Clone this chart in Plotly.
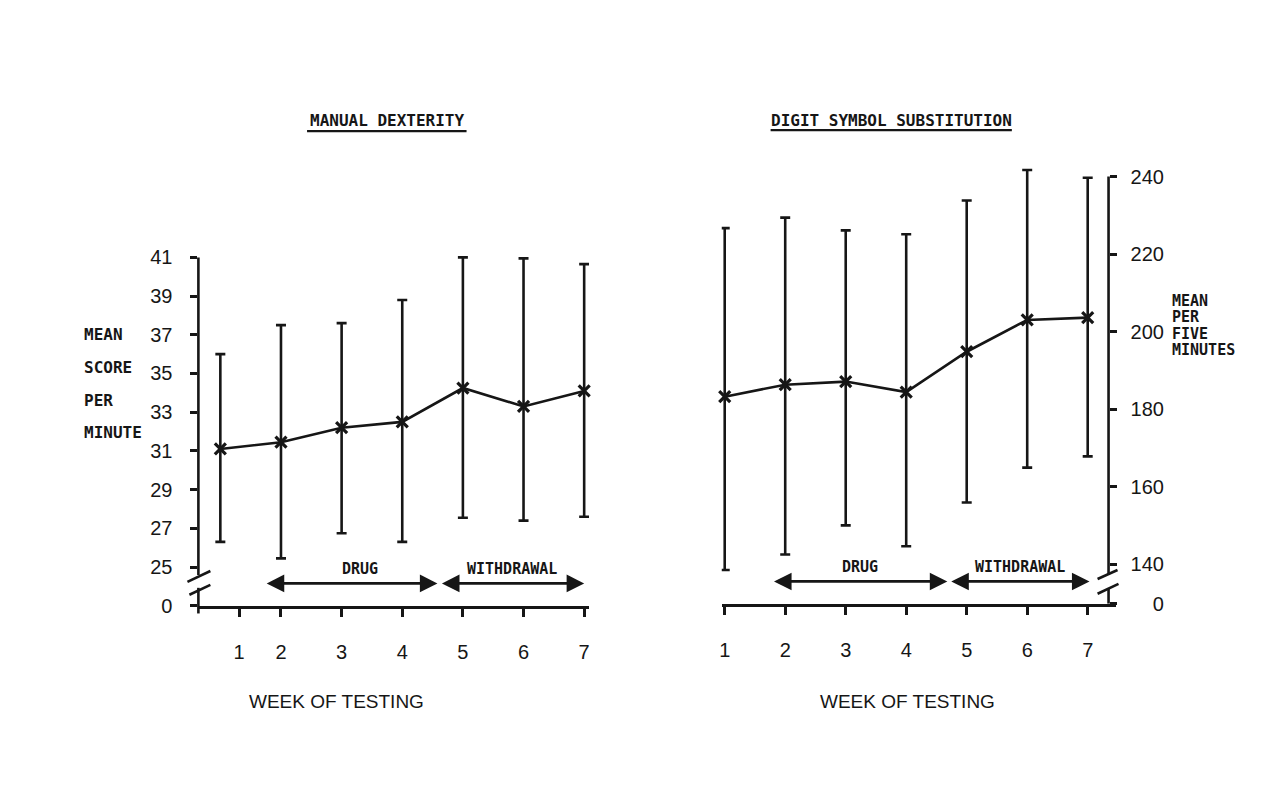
import plotly.graph_objects as go

# ---------------- data ----------------
weeks = [1, 2, 3, 4, 5, 6, 7]
week_labels = ["1", "2", "3", "4", "5", "6", "7"]

md_mean = [31.1, 31.45, 32.2, 32.5, 34.25, 33.3, 34.1]
md_upper = [36.0, 37.5, 37.6, 38.8, 41.0, 40.95, 40.65]
md_lower = [26.3, 25.45, 26.75, 26.3, 27.55, 27.4, 27.6]

dss_mean = [183.2, 186.3, 187.1, 184.4, 194.8, 203.0, 203.6]
dss_upper = [226.7, 229.4, 226.1, 225.1, 233.8, 241.7, 239.7]
dss_lower = [138.5, 142.5, 150.0, 144.6, 155.9, 164.9, 167.8]

md_ticks = [25, 27, 29, 31, 33, 35, 37, 39, 41]
dss_ticks = [140, 160, 180, 200, 220, 240]

drug_md = [1.74, 4.58]
withdrawal_md = [4.63, 7.0]
drug_dss = [1.79, 4.68]
withdrawal_dss = [4.72, 7.03]

# ---------------- helpers ----------------
W, H = 1285, 801
INK = "#161616"
NUM_FONT = dict(family="Liberation Sans Narrow, Liberation Sans, Arial, sans-serif", size=20, color=INK)
TYPE_FONT = dict(family="DejaVu Sans Mono, Liberation Mono, monospace", size=15, color=INK, weight="bold")


def px(x):
    return x / W


def py(y):
    return 1 - y / H


# axis geometry (pixels); y-ranges are extended slightly past the top tick so caps are not clipped
L_X0 = 196
L_Y0 = 614
L_PPU = 19.625            # px per unit (left)
md_range = [23.01, 41.6]
L_Y1 = L_Y0 - (md_range[1] - md_range[0]) * L_PPU
L_TOP = 261               # pixel of 41 tick
x_md_range = [0.638, 7.08]
L_X1 = 218 + (x_md_range[1] - 1) * 60.83

R_X0, R_X1 = 721, 1116
R_Y0 = 612
R_PPU = 3.93
dss_range = [129.82, 243.5]
R_Y1 = R_Y0 - (dss_range[1] - dss_range[0]) * R_PPU
R_TOP = 179
R_AX = 1109


def trace(x, mean, up, lo, xa, ya):
    return go.Scatter(
        x=x, y=mean, xaxis=xa, yaxis=ya, mode="lines+markers",
        line=dict(color=INK, width=2.6),
        marker=dict(symbol="x-thin", size=11, color=INK, line=dict(width=3.2, color=INK)),
        error_y=dict(type="data", symmetric=False,
                     array=[u - m for u, m in zip(up, mean)],
                     arrayminus=[m - l for m, l in zip(mean, lo)],
                     thickness=2.6, width=5, color=INK),
        cliponaxis=False, showlegend=False, hoverinfo="skip",
    )


fig = go.Figure()
fig.add_trace(trace(weeks, md_mean, md_upper, md_lower, "x", "y"))
fig.add_trace(trace(weeks, dss_mean, dss_upper, dss_lower, "x2", "y2"))

common_x = dict(showline=True, linewidth=2.6, linecolor=INK, ticks="outside", ticklen=9,
                tickwidth=2.6, tickcolor=INK, showgrid=False, zeroline=False,
                tickfont=NUM_FONT, ticklabelstandoff=18, fixedrange=True)
common_y = dict(showline=False, ticks="outside", ticklen=7, tickwidth=2.6, tickcolor=INK,
                showgrid=False, zeroline=False, tickfont=NUM_FONT, fixedrange=True)

fig.update_layout(
    width=W, height=H, margin=dict(l=0, r=0, t=0, b=0),
    paper_bgcolor="white", plot_bgcolor="rgba(0,0,0,0)",
    xaxis=dict(domain=[px(L_X0), px(L_X1)], range=x_md_range, anchor="y",
               tickvals=[1.31] + weeks[1:], ticktext=week_labels, **common_x),
    yaxis=dict(domain=[py(L_Y0), py(L_Y1)], range=md_range, anchor="x",
               tickvals=[md_range[0]] + md_ticks, ticktext=["0"] + [str(t) for t in md_ticks],
               ticklabelstandoff=14, **common_y),
    xaxis2=dict(domain=[px(R_X0), px(R_X1)], range=[0.951, 7.46], anchor="y2",
                tickvals=weeks, ticktext=week_labels, **common_x),
    yaxis2=dict(domain=[py(R_Y0), py(R_Y1)], range=dss_range, anchor="free",
                position=px(R_AX), side="right",
                tickvals=[dss_range[0]] + dss_ticks,
                ticktext=["\u2007\u20070"] + [str(t) for t in dss_ticks],
                ticklabelstandoff=10, **common_y),
)

shapes = []


def seg(x0, y0, x1, y1, w=2.6):
    shapes.append(dict(type="line", xref="paper", yref="paper",
                       x0=px(x0), y0=py(y0), x1=px(x1), y1=py(y1),
                       line=dict(color=INK, width=w)))


# left broken y-axis
seg(L_X0, L_TOP, L_X0, 583)
seg(L_X0, 596, L_X0, 622)
seg(185, 590, 208, 579)
seg(187, 603, 208, 593)
# right broken y-axis
seg(R_AX, R_TOP, R_AX, 583)
seg(R_AX, 597, R_AX, R_Y0)
seg(1098, 587, 1118, 578)
seg(1098, 602, 1119, 592)
# title underlines
seg(305, 133, 465, 133, 2.2)
seg(770, 132, 1012, 132, 2.2)

annotations = []


def text(x, y, s, font=TYPE_FONT, xanchor="left"):
    annotations.append(dict(x=px(x), y=py(y), xref="paper", yref="paper", text=s,
                            showarrow=False, xanchor=xanchor, yanchor="middle", font=font))


text(385, 122, "MANUAL DEXTERITY", dict(TYPE_FONT, size=16), "center")
text(891, 122, "DIGIT SYMBOL SUBSTITUTION", dict(TYPE_FONT, size=16), "center")

for s, y in zip(["MEAN", "SCORE", "PER", "MINUTE"], [339, 373, 406.5, 439]):
    text(79, y, s, dict(TYPE_FONT, size=16))
for s, y in zip(["MEAN", "PER", "FIVE", "MINUTES"], [305, 321.7, 338.3, 355]):
    text(1171, y, s)

text(335, 711, "WEEK OF TESTING", dict(NUM_FONT, size=19), "center")
text(907, 711, "WEEK OF TESTING", dict(NUM_FONT, size=19), "center")


def inv(val_px, rng, y0, ppu):
    # pixel y -> data value on an axis
    return rng[0] + (y0 - val_px) / ppu


def phase_arrow(span, xa, ya, yval):
    annotations.append(dict(x=span[1], y=yval, ax=span[0], ay=yval, xref=xa, yref=ya,
                            axref=xa, ayref=ya, text="", showarrow=True,
                            arrowhead=2, startarrowhead=2, arrowside="end+start",
                            arrowsize=1.35, startarrowsize=1.35, arrowwidth=2.6,
                            arrowcolor=INK, standoff=0, startstandoff=0))


def phase_label(span, xa, ya, yval, s):
    annotations.append(dict(x=(span[0] + span[1]) / 2, y=yval, xref=xa, yref=ya, text=s,
                            showarrow=False, xanchor="center", yanchor="middle",
                            font=dict(TYPE_FONT, size=15)))


yl_arrow = inv(591.5, md_range, L_Y0, L_PPU)
yl_text = inv(577, md_range, L_Y0, L_PPU)
yr_arrow = inv(589.5, dss_range, R_Y0, R_PPU)
yr_text = inv(575, dss_range, R_Y0, R_PPU)

phase_arrow(drug_md, "x", "y", yl_arrow)
phase_arrow(withdrawal_md, "x", "y", yl_arrow)
phase_arrow(drug_dss, "x2", "y2", yr_arrow)
phase_arrow(withdrawal_dss, "x2", "y2", yr_arrow)
phase_label([drug_md[0] + 0.3, drug_md[1]], "x", "y", yl_text, "DRUG")
phase_label(withdrawal_md, "x", "y", yl_text, "WITHDRAWAL")
phase_label(drug_dss, "x2", "y2", yr_text, "DRUG")
phase_label(withdrawal_dss, "x2", "y2", yr_text, "WITHDRAWAL")

fig.update_layout(shapes=shapes, annotations=annotations)
fig.write_html("out.html")
